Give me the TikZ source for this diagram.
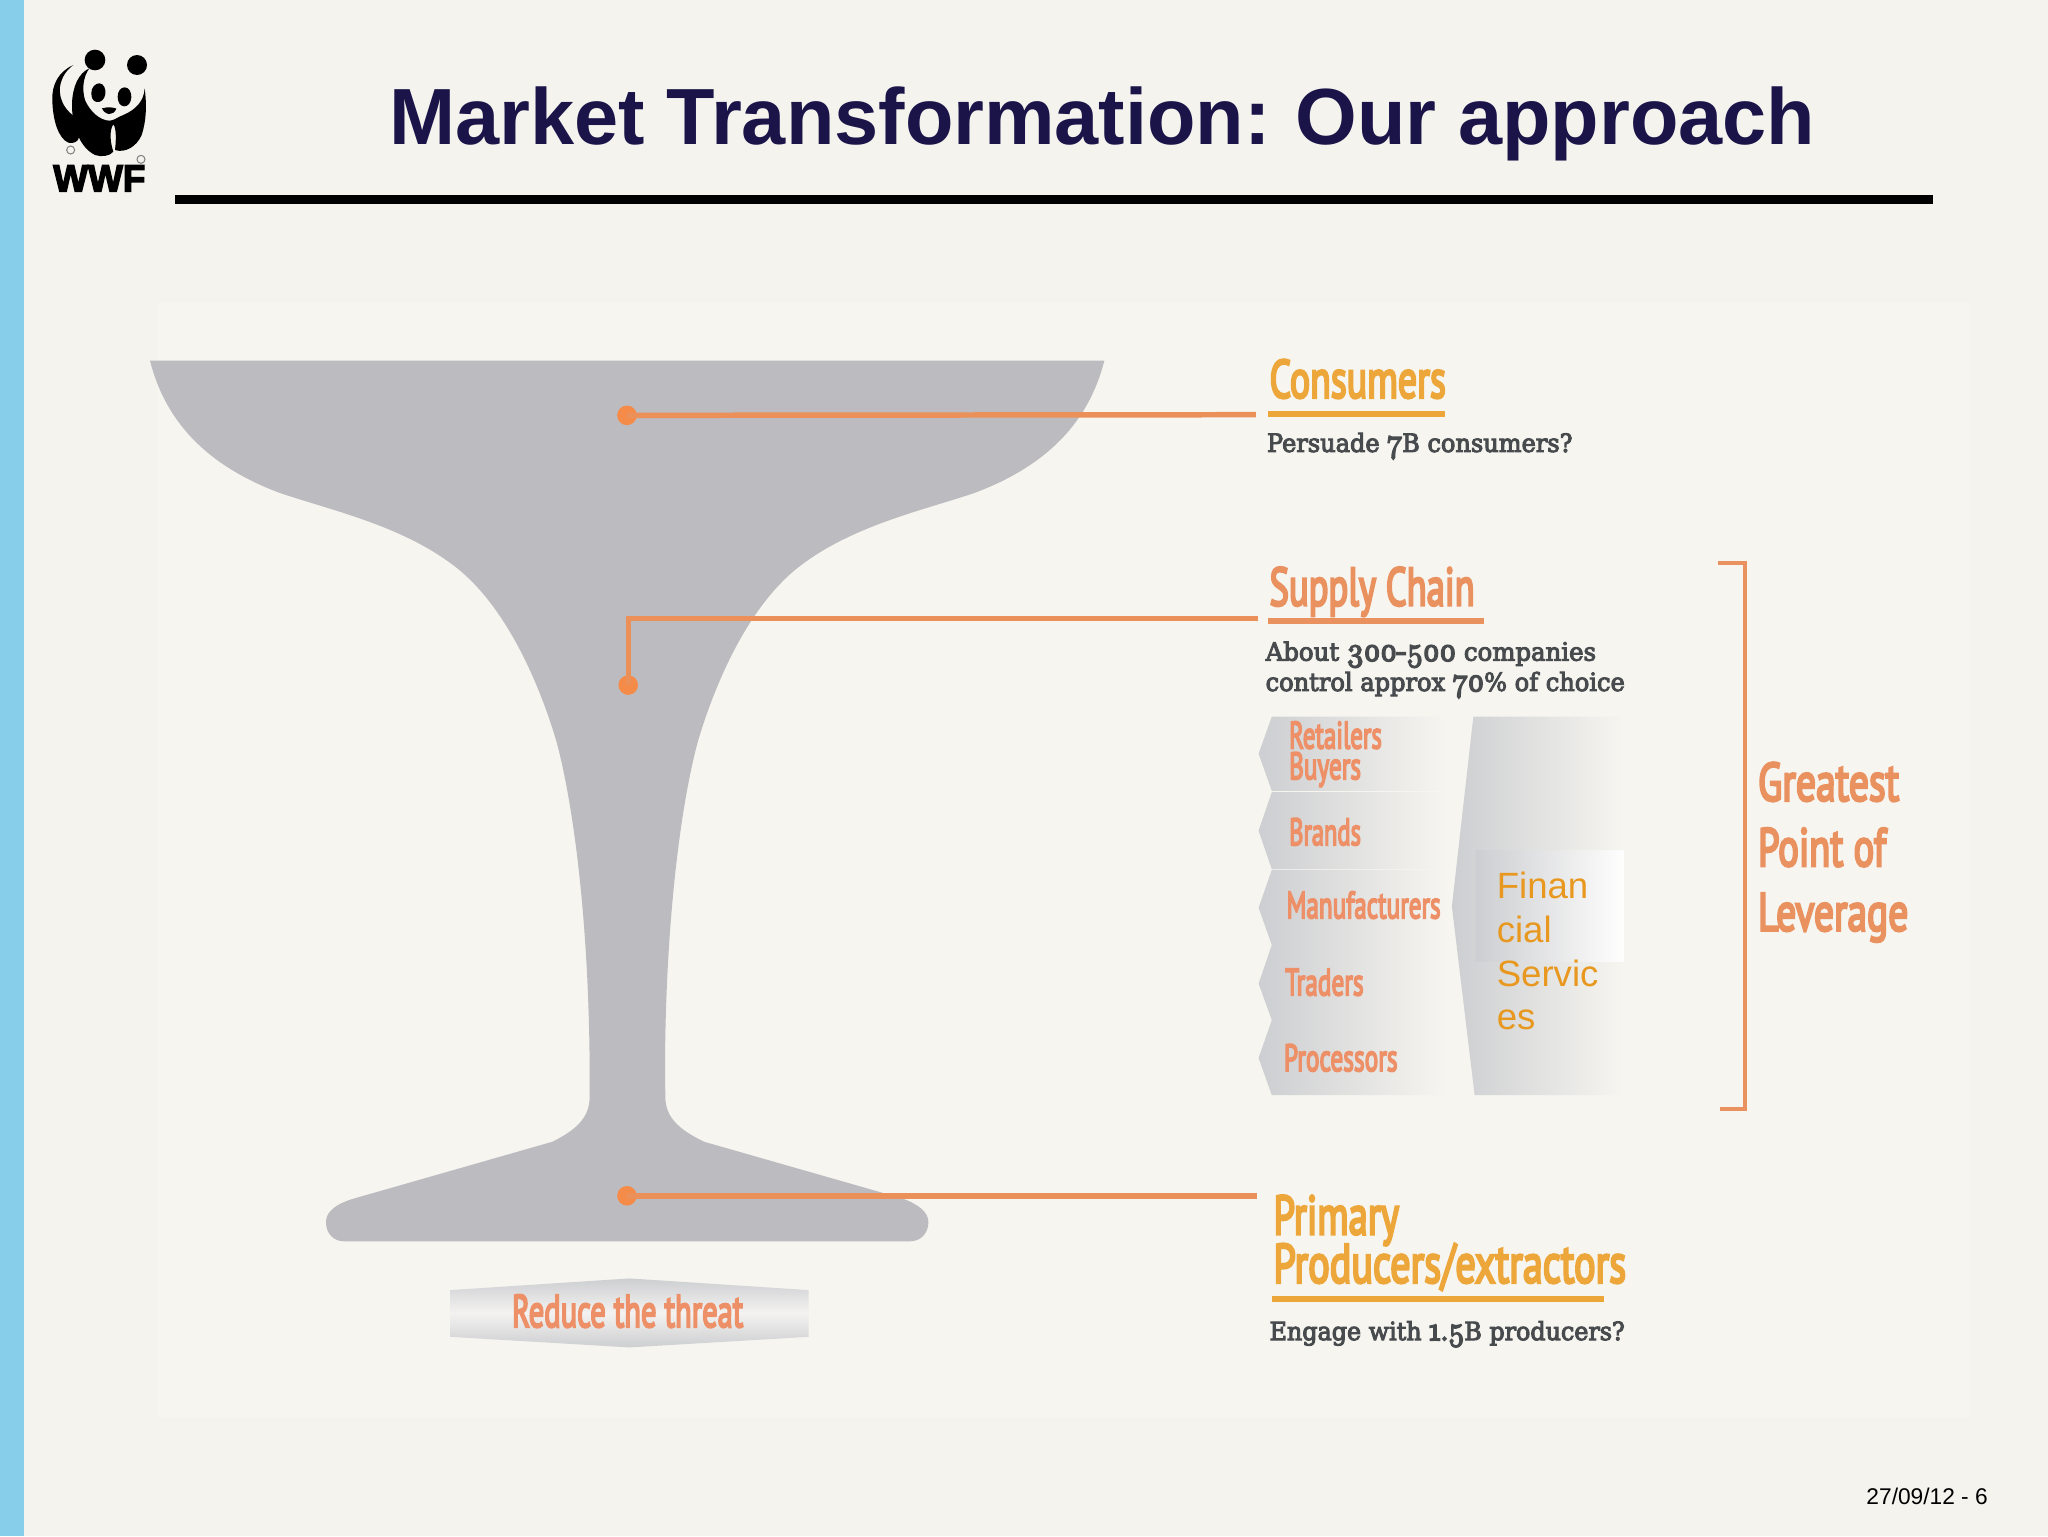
\documentclass[tikz,border=0pt]{standalone}
\usepackage{graphicx}
\usepackage{fontspec}
\newfontfamily\arial{Liberation Sans}
\newfontfamily\wwff[FakeBold=4]{Liberation Sans Bold}
\newfontfamily\condf[FakeBold=5]{PT Sans}
\newfontfamily\geo[FakeBold=4]{DejaVu Serif}
\newfontfamily\geonum[Numbers=OldStyle,FakeBold=6]{Latin Modern Roman}
\newlength\un \setlength\un{0.65306pt}
\definecolor{bgc}{HTML}{F5F3EE}
\definecolor{picbg}{HTML}{F6F5F0}
\definecolor{barc}{HTML}{87CEEB}
\definecolor{titlec}{HTML}{1A1448}
\definecolor{glassc}{HTML}{BCBCC0}
\definecolor{linec}{HTML}{EC9059}
\definecolor{dotc}{HTML}{F58B48}
\definecolor{yell}{HTML}{ECA63A}
\definecolor{orng}{HTML}{EA9160}
\definecolor{salm}{HTML}{EE9067}
\definecolor{fin}{HTML}{E8981F}
\definecolor{greyL}{HTML}{CDCED1}
\definecolor{greyT}{HTML}{484B4E}
\newcommand\cond[3]{\resizebox{#1\un}{\height}{\fontsize{#2\un}{#2\un}\condf #3}}
\newcommand\ser[2]{\resizebox{#1\un}{\height}{\fontsize{19.2\un}{19.2\un}\geo #2}}
\newcommand\osn[1]{{\fontsize{25\un}{25\un}\geonum #1}}
\tikzset{
  lab/.style={anchor=base west,inner sep=0pt,outer sep=0pt},
  conn/.style={linec,line width=4.2\un},
  uline/.style={yell,line width=4.6\un},
  dot/.style={circle,fill=dotc,minimum size=15\un,inner sep=0pt},
  chev/.style={left color=greyL,right color=picbg}
}
\begin{document}
\begin{tikzpicture}[x=\un,y=-\un]
\useasboundingbox (0,0) rectangle (1568,1176);
\fill[bgc] (0,0) rectangle (1568,1176);
\fill[barc] (0,0) rectangle (18.5,1176);
\fill[picbg] (120,232) rectangle (1508,1085);
% title
\node[lab,text=titlec] (title) at (298,111) {\resizebox{1092\un}{\height}{\fontsize{61\un}{61\un}\arial\bfseries Market Transformation:\hspace{-0.06em} Our approach}};
\fill[black] (134,149.5) rectangle (1480,156);
% panda
\begin{scope}[x=0.16667pt,y=-0.16667pt]
\fill[black] (285,180) circle [radius=31];
\fill[black] (411,195) circle [radius=30];
\fill[black] (306,325) .. controls (325,320) and (340,322) .. (349,326) .. controls (345,338) and (335,342) .. (328,342) .. controls (320,342) and (310,335) .. (306,325) -- cycle;
\fill[black] (220,195) .. controls (175,215) and (155,255) .. (157,300) .. controls (158,360) and (175,415) .. (205,428) .. controls (220,432) and (235,425) .. (237,412) .. controls (230,395) and (228,370) .. (235,355) .. controls (200,340) and (175,300) .. (180,260) .. controls (185,230) and (200,210) .. (220,195) -- cycle;
\fill[black] (268,205) .. controls (235,220) and (218,260) .. (216,310) .. controls (215,370) and (235,440) .. (285,465) .. controls (305,472) and (330,468) .. (340,455) .. controls (330,425) and (328,390) .. (340,373) .. controls (350,385) and (348,425) .. (345,450) .. controls (375,460) and (410,440) .. (425,405) .. controls (440,360) and (440,310) .. (434,265) .. controls (432,305) and (405,330) .. (370,345) .. controls (355,350) and (345,360) .. (330,362) .. controls (300,362) and (270,335) .. (255,300) .. controls (245,265) and (250,230) .. (268,205) -- cycle;
\fill[black] (274,279) .. controls (274,262) and (286,250) .. (298,250) .. controls (312,250) and (318,268) .. (316,282) .. controls (314,298) and (302,308) .. (290,306) .. controls (278,304) and (274,292) .. (274,279) -- cycle;
\fill[black] (353,290) .. controls (353,274) and (362,262) .. (374,262) .. controls (386,262) and (395,276) .. (394,292) .. controls (393,308) and (384,320) .. (372,319) .. controls (360,318) and (353,306) .. (353,290) -- cycle;
\node[lab,text=black] (wwftxt) at (160,574) {\resizebox{46pt}{13pt}{\wwff WWF}};
\node[circle,draw=gray,line width=0.5pt,minimum size=4pt,inner sep=0pt] (c1) at (212,450) {};
\node[circle,draw=gray,line width=0.5pt,minimum size=4pt,inner sep=0pt] (c2) at (423,478) {};
\end{scope}
% glass (full-size pixel coordinates)
\begin{scope}[x=0.5pt,y=-0.5pt]
\fill[glassc] (150,360.7) .. controls (165,420) and (205,465) .. (280,493) .. controls (330,510) and (400,525) .. (453,565) .. controls (500,600) and (535,670) .. (556,740) .. controls (570,790) and (588,900) .. (589.6,1060) -- (589.6,1096.7) .. controls (589.6,1115) and (580,1128) .. (552.5,1141.7) -- (354.7,1198.3) .. controls (335,1204) and (326,1212) .. (326,1222) .. controls (326,1234) and (334,1241.3) .. (344,1241.3) -- (910,1241.3) .. controls (920,1241.3) and (928.4,1234) .. (928.4,1222) .. controls (928.4,1212) and (918,1204) .. (901.8,1198.3) -- (704,1141.7) .. controls (680,1130) and (665.3,1118) .. (665.3,1096.7) -- (665,1060) .. controls (666.3,900) and (684.3,790) .. (698.3,740) .. controls (719.3,670) and (754.3,600) .. (801.3,565) .. controls (854.3,525) and (924.3,510) .. (974.3,493) .. controls (1049.3,465) and (1089.3,420) .. (1104.3,360.7) -- cycle;
\end{scope}
% dots and connectors
\node[dot] (d1) at (480,318) {};
\node[dot] (d2) at (481,524.5) {};
\node[dot] (d3) at (480,915.5) {};
\coordinate (e1) at (961.6,317.5);
\coordinate (e2) at (963,473.5);
\coordinate (e3) at (962,915.5);
\draw[conn] (d1.center) -- (e1);
\draw[conn] (d2.center) |- (e2);
\draw[conn] (d3.center) -- (e3);
% consumers
\node[lab,text=yell] (consumers) at (972,304.5) {\cond{135}{41}{Consumers}};
\draw[uline] (971,317) -- (1106.6,317);
\node[lab,text=greyT] (t1) at (970,346) {\ser{234}{Persuade \osn{7}B consumers?}};
% supply chain
\node[lab,text=orng] (supply) at (972,463.5) {\cond{157}{41}{Supply Chain}};
\draw[uline,orng] (971,475.2) -- (1136,475.2);
\node[lab,text=greyT] (t2) at (969,505.8) {\ser{253}{About \osn{300-500} companies}};
\node[lab,text=greyT] (t3) at (969,529) {\ser{275}{control approx \osn{70}\% of choice}};
% chevrons
\shade[chev] (973.7,548.7) -- (1107,548.7) -- (1107,605.5) -- (973.7,605.5) -- (963.6,577) -- cycle;
\shade[chev] (973.7,606.5) -- (1107,606.5) -- (1107,665.5) -- (973.7,665.5) -- (963.6,636) -- cycle;
\shade[chev] (973.7,666) -- (1107,666) -- (1107,723.5) -- (973.7,723.5) -- (963.6,695) -- cycle;
\shade[chev] (973.7,723.5) -- (1107,723.5) -- (1107,781) -- (973.7,781) -- (963.6,753) -- cycle;
\shade[chev] (973.7,781) -- (1107,781) -- (1107,838.5) -- (973.7,838.5) -- (963.6,810) -- cycle;
\node[lab,text=salm] (r1) at (987,573) {\cond{71}{29}{Retailers}};
\node[lab,text=salm] (r2) at (987,596.5) {\cond{55}{29}{Buyers}};
\node[lab,text=salm] (r3) at (987,647) {\cond{55}{29}{Brands}};
\node[lab,text=salm] (r4) at (985,703) {\cond{118}{29}{Manufacturers}};
\node[lab,text=salm] (r5) at (984,762) {\cond{60}{29}{Traders}};
\node[lab,text=salm] (r6) at (983,820) {\cond{87}{29}{Processors}};
% financial panel
\shade[chev] (1128,548.7) -- (1243,548.7) -- (1243,838.5) -- (1129,838.5) -- (1111.6,694) -- cycle;
\shade[left color=greyL,right color=white!90!picbg] (1130,651) rectangle (1243,736);
\begin{scope}[every node/.style={lab,text=fin,font=\fontsize{28\un}{28\un}\arial}]
\node (f1) at (1146,688) {Finan};
\node (f2) at (1146,721.5) {cial};
\node (f3) at (1146,755) {Servic};
\node (f4) at (1146,788.5) {es};
\end{scope}
% bracket
\draw[orng,line width=3.6\un] (1315,431) -- (1336,431) -- (1336,849) -- (1317,849);
\node[lab,text=orng] (g1) at (1346,613) {\cond{108}{41}{Greatest}};
\node[lab,text=orng] (g2) at (1346,663) {\cond{98}{41}{Point of}};
\node[lab,text=orng] (g3) at (1346,712.5) {\cond{115}{41}{Leverage}};
% primary
\node[lab,text=yell] (p1) at (975,945) {\cond{96}{42}{Primary}};
\node[lab,text=yell] (p2) at (975,982) {\cond{270}{42}{Producers/extractors}};
\draw[uline] (974,994.5) -- (1228,994.5);
\node[lab,text=greyT] (t4) at (972,1026) {\ser{272}{Engage with \osn{1.5}B producers?}};
% reduce band
\shade[top color=greyL,bottom color=greyL,middle color=white!80!blue!6!picbg] (344.6,987.7) -- (482,978.8) -- (619,987.7) -- (619,1023.5) -- (482,1031.6) -- (344.6,1023.5) -- cycle;
\node[lab,text=salm] (reduce) at (392,1016) {\cond{177}{35}{Reduce the threat}};
% date
\node[lab,text=black] (date) at (1429,1152) {\fontsize{17.4\un}{17.4\un}\arial 27/09/12 - 6};
\end{tikzpicture}
\end{document}
